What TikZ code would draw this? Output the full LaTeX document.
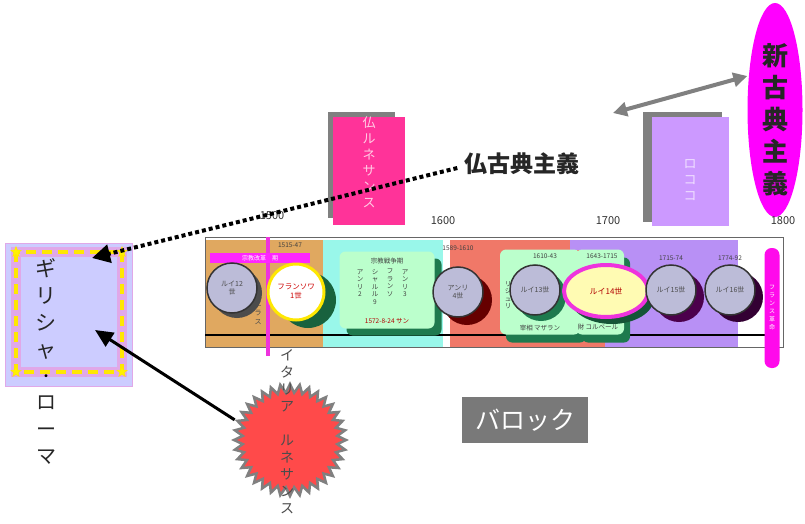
\documentclass[tikz,border=0pt]{standalone}
\usepackage{fontspec}
\setmainfont{Noto Sans CJK JP}
\usetikzlibrary{shapes.geometric,shapes.symbols,arrows.meta}
\definecolor{tanc}{HTML}{E0A860}
\definecolor{cyanc}{HTML}{99F7EA}
\definecolor{salmonc}{HTML}{F07868}
\definecolor{purplec}{HTML}{B890F5}
\definecolor{mintc}{HTML}{BBFFCC}
\definecolor{dgreen}{HTML}{1E7A4E}
\definecolor{circc}{HTML}{BCBCD8}
\definecolor{pinkc}{HTML}{FF3399}
\definecolor{rocococ}{HTML}{CC99FF}
\definecolor{magc}{HTML}{FF00FF}
\definecolor{barmag}{HTML}{EE33DD}
\definecolor{lavc}{HTML}{CCCCFF}
\definecolor{lavborder}{HTML}{E0A8E8}
\definecolor{redc}{HTML}{FF4A4A}
\tikzset{
  ruler/.style={circle, fill=circc, draw=black!80, line width=1.5pt, minimum size=50pt, inner sep=0pt, font=\fontsize{7}{8}\selectfont, align=center, text=black!70},
  shad/.style={circle, minimum size=50pt, inner sep=0pt},
  year/.style={font=\fontsize{11}{12}\selectfont, text=black!80},
  small/.style={font=\fontsize{6.5}{7.5}\selectfont, text=black!75, align=center, inner sep=0pt},
  vtext/.style={align=center, inner sep=0pt},
  mintbox/.style={rectangle, rounded corners=6pt, fill=mintc, inner sep=0pt},
  greenshadow/.style={rectangle, rounded corners=6pt, fill=dgreen, inner sep=0pt},
  starc/.style={star, star points=5, star point ratio=2.3, fill=yellow, draw=yellow!90!orange, minimum size=11pt, inner sep=0pt}
}
\begin{document}
\begin{tikzpicture}[x=1pt,y=-1pt]
\useasboundingbox (0,0) rectangle (805,524);
\fill[white] (0,0) rectangle (805,524);

% ---- timeline backgrounds ----
\fill[tanc] (205,240) rectangle (323,348);
\fill[cyanc] (323,240) rectangle (443,348);
\fill[salmonc] (450,240) rectangle (605,348);
\fill[purplec] (605,240) rectangle (738,348);
\fill[purplec] (570,240) rectangle (605,250);
\draw[black!60, line width=1pt] (205,237) rectangle (783,347);
\draw[black, line width=1.8pt] (205,335) -- (765,335);

% ---- Renaissance / Rococo boxes ----
\fill[gray] (328,112) rectangle (395,218);
\node[rectangle, fill=pinkc, minimum width=72pt, minimum height=108pt, inner sep=0pt] (frren) at (369,171) {};
\node[vtext, text=white!75!pinkc, font=\fontsize{13}{16}\selectfont] (frrent) at (369,162) {仏\\ル\\ネ\\サ\\ン\\ス};
\fill[gray] (643,112) rectangle (722,222);
\node[rectangle, fill=rocococ, minimum width=77pt, minimum height=109pt, inner sep=0pt] (rococo) at (690.5,171.5) {};
\node[vtext, text=white!70!rocococ, font=\fontsize{13}{16}\selectfont] (rococot) at (690,180) {ロ\\コ\\コ};

% ---- neoclassicism ----
\node[ellipse, fill=magc, minimum width=55pt, minimum height=214pt, inner sep=0pt] (neo) at (775,110) {};
\node[vtext, font=\fontsize{26}{32}\selectfont\bfseries, text=black!85] (neot) at (775,120) {新\\古\\典\\主\\義};
\coordinate (dl) at (613,113);
\draw[{Triangle[length=14pt,width=14pt]}-{Triangle[length=14pt,width=14pt]}, gray, line width=4pt] (dl) -- (neo.west |- 0,76);

% ---- years ----
\node[year] (y1500) at (272,216) {1500};
\node[year] (y1600) at (443,221) {1600};
\node[year] (y1700) at (608,221) {1700};
\node[year] (y1800) at (783,221) {1800};

% ---- magenta line & bar ----
\draw[barmag, line width=4pt] (268,237) -- (268,356);
\node[rectangle, fill=magc!85, minimum width=100pt, minimum height=10pt, inner sep=0pt, font=\fontsize{6}{7}\selectfont, text=white] (reform) at (260,258) {宗教改革\quad 期};
\node[small] (fdate) at (290,245) {1515-47};
\node[vtext, font=\fontsize{7}{9}\selectfont, text=black!70] (eras) at (258,313) {エ\\ラ\\ス};

% ---- first circle ----
\node[shad, fill=black!70] at (237,293) {};
\node[ruler] (c1) at (232,288) {ルイ12\\世};

% ---- Francois I ----
\node[circle, fill=dgreen!80!black, minimum size=56pt] at (308,300) {};
\node[circle, fill=white, draw=yellow!90!orange, line width=3pt, minimum size=56pt, inner sep=0pt, font=\fontsize{7.5}{9}\selectfont, text=red!80!black, align=center] (fr1) at (296,292) {フランソワ\\1世};

% ---- religious wars box ----
\node[greenshadow, minimum width=95pt, minimum height=77pt] at (394,297) {};
\node[mintbox, minimum width=95pt, minimum height=77pt] (wars) at (387,290) {};
\node[small] (warst) at (387,261) {宗教戦争期};
\node[small] (w1) at (360,283) {ア\\ン\\リ\\2};
\node[small] (w2) at (375,287) {シ\\ャ\\ル\\ル\\9};
\node[small] (w3) at (390,283) {フ\\ラ\\ン\\ソ};
\node[small] (w4) at (405,283) {ア\\ン\\リ\\3};
\node[small, text=red!70!black] (warsd) at (387,321) {1572-8-24 サン};

% ---- Henri IV ----
\node[shad, fill=red!40!black] at (467,300) {};
\node[ruler] (c4) at (458,292) {アンリ\\4世};
\node[small] (h4d) at (458,248) {1589-1610};

% ---- Louis XIII box ----
\node[greenshadow, minimum width=80pt, minimum height=85pt] at (546,300) {};
\node[mintbox, minimum width=80pt, minimum height=85pt] (l13box) at (540,292) {};
\node[small] (l13d) at (545,256) {1610-43};
\node[small] (rich) at (508,295) {リ\\シ\\ュ\\リ};
\node[small] (maz) at (540,328) {宰相\ マザラン};
\node[shad, fill=dgreen] at (541,296) {};
\node[ruler] (c13) at (535,290) {ルイ13世};

% ---- Louis XIV box ----
\node[greenshadow, minimum width=48pt, minimum height=85pt] at (606,300) {};
\node[mintbox, minimum width=48pt, minimum height=85pt] (l14box) at (600,292) {};
\node[small] (l14d) at (602,256) {1643-1715};
\node[small] (colb) at (598,327) {財\ コルベール};
\node[ellipse, fill=dgreen!70!black, minimum width=84pt, minimum height=52pt] at (612,298) {};
\node[ellipse, fill=yellow!30, draw=barmag, line width=4pt, minimum width=84pt, minimum height=52pt, inner sep=0pt, font=\fontsize{8}{9}\selectfont, text=red!70!black] (c14) at (606,291) {ルイ14世};

% ---- Louis XV, XVI ----
\node[shad, fill=violet!60!black] at (679,297) {};
\node[ruler] (c15) at (671,290) {ルイ15世};
\node[small] (l15d) at (671,258) {1715-74};
\node[shad, fill=violet!40!black] at (738,297) {};
\node[ruler] (c16) at (730,290) {ルイ16世};
\node[small] (l16d) at (730,258) {1774-92};

% ---- revolution bar ----
\node[rectangle, rounded corners=7pt, fill=magc!80!pinkc, minimum width=15pt, minimum height=120pt, inner sep=0pt] (rev) at (772,308) {};
\node[vtext, font=\fontsize{6}{8}\selectfont, text=white] (revt) at (772,308) {フ\\ラ\\ン\\ス\\革\\命};

% ---- Greece / Rome ----
\node[rectangle, fill=lavc, draw=lavborder, line width=1pt, minimum width=127pt, minimum height=143pt, inner sep=0pt] (greece) at (68.5,314.5) {};
\draw[lavborder, line width=10pt] (16,252) rectangle (122,372);
\draw[yellow!90!orange, line width=3.5pt, dash pattern=on 10pt off 6pt] (16,252) rectangle (122,372);
\node[starc] (s1) at (16,252) {};
\node[starc] (s2) at (122,252) {};
\node[starc] (s3) at (16,372) {};
\node[starc] (s4) at (122,372) {};
\node[vtext, font=\fontsize{21}{27}\selectfont, text=black!85] (greecet) at (46,309) {ギ\\リ\\シ\\ャ};
\node[vtext, font=\fontsize{14}{14}\selectfont] (dot) at (46,378) {・};
\node[vtext, font=\fontsize{20}{27}\selectfont, text=black!85] (romet) at (46,430) {ロ\\ー\\マ};

% ---- French classicism ----
\node[font=\fontsize{23}{26}\selectfont\bfseries, text=black!85, inner sep=2pt] (fclass) at (522,164) {仏古典主義};
\coordinate (gtop) at (92,258);
\draw[line width=4pt, dash pattern=on 4pt off 3pt, -{Triangle[length=18pt,width=18pt]}] (fclass.west) ++(-5,4) -- (gtop);

% ---- Baroque ----
\node[rectangle, fill=gray!95!black, minimum width=126pt, minimum height=46pt, inner sep=0pt, font=\fontsize{25}{28}\selectfont, text=white] (baroque) at (525,420) {バロック};

% ---- Italian Renaissance ----
\node[star, star points=36, star point ratio=1.18, fill=redc, draw=gray, line width=2.5pt, minimum size=112pt, inner sep=0pt] (italy) at (290,440) {};
\node[vtext, font=\fontsize{14}{17}\selectfont, text=black!70] (italyt) at (287,432) {イ\\タ\\リ\\ア\\ \\ル\\ネ\\サ\\ン\\ス};
\coordinate (gmid) at (95,330);
\draw[line width=3pt, -{Triangle[length=18pt,width=16pt]}] (italy.160) -- (gmid);
\end{tikzpicture}
\end{document}
